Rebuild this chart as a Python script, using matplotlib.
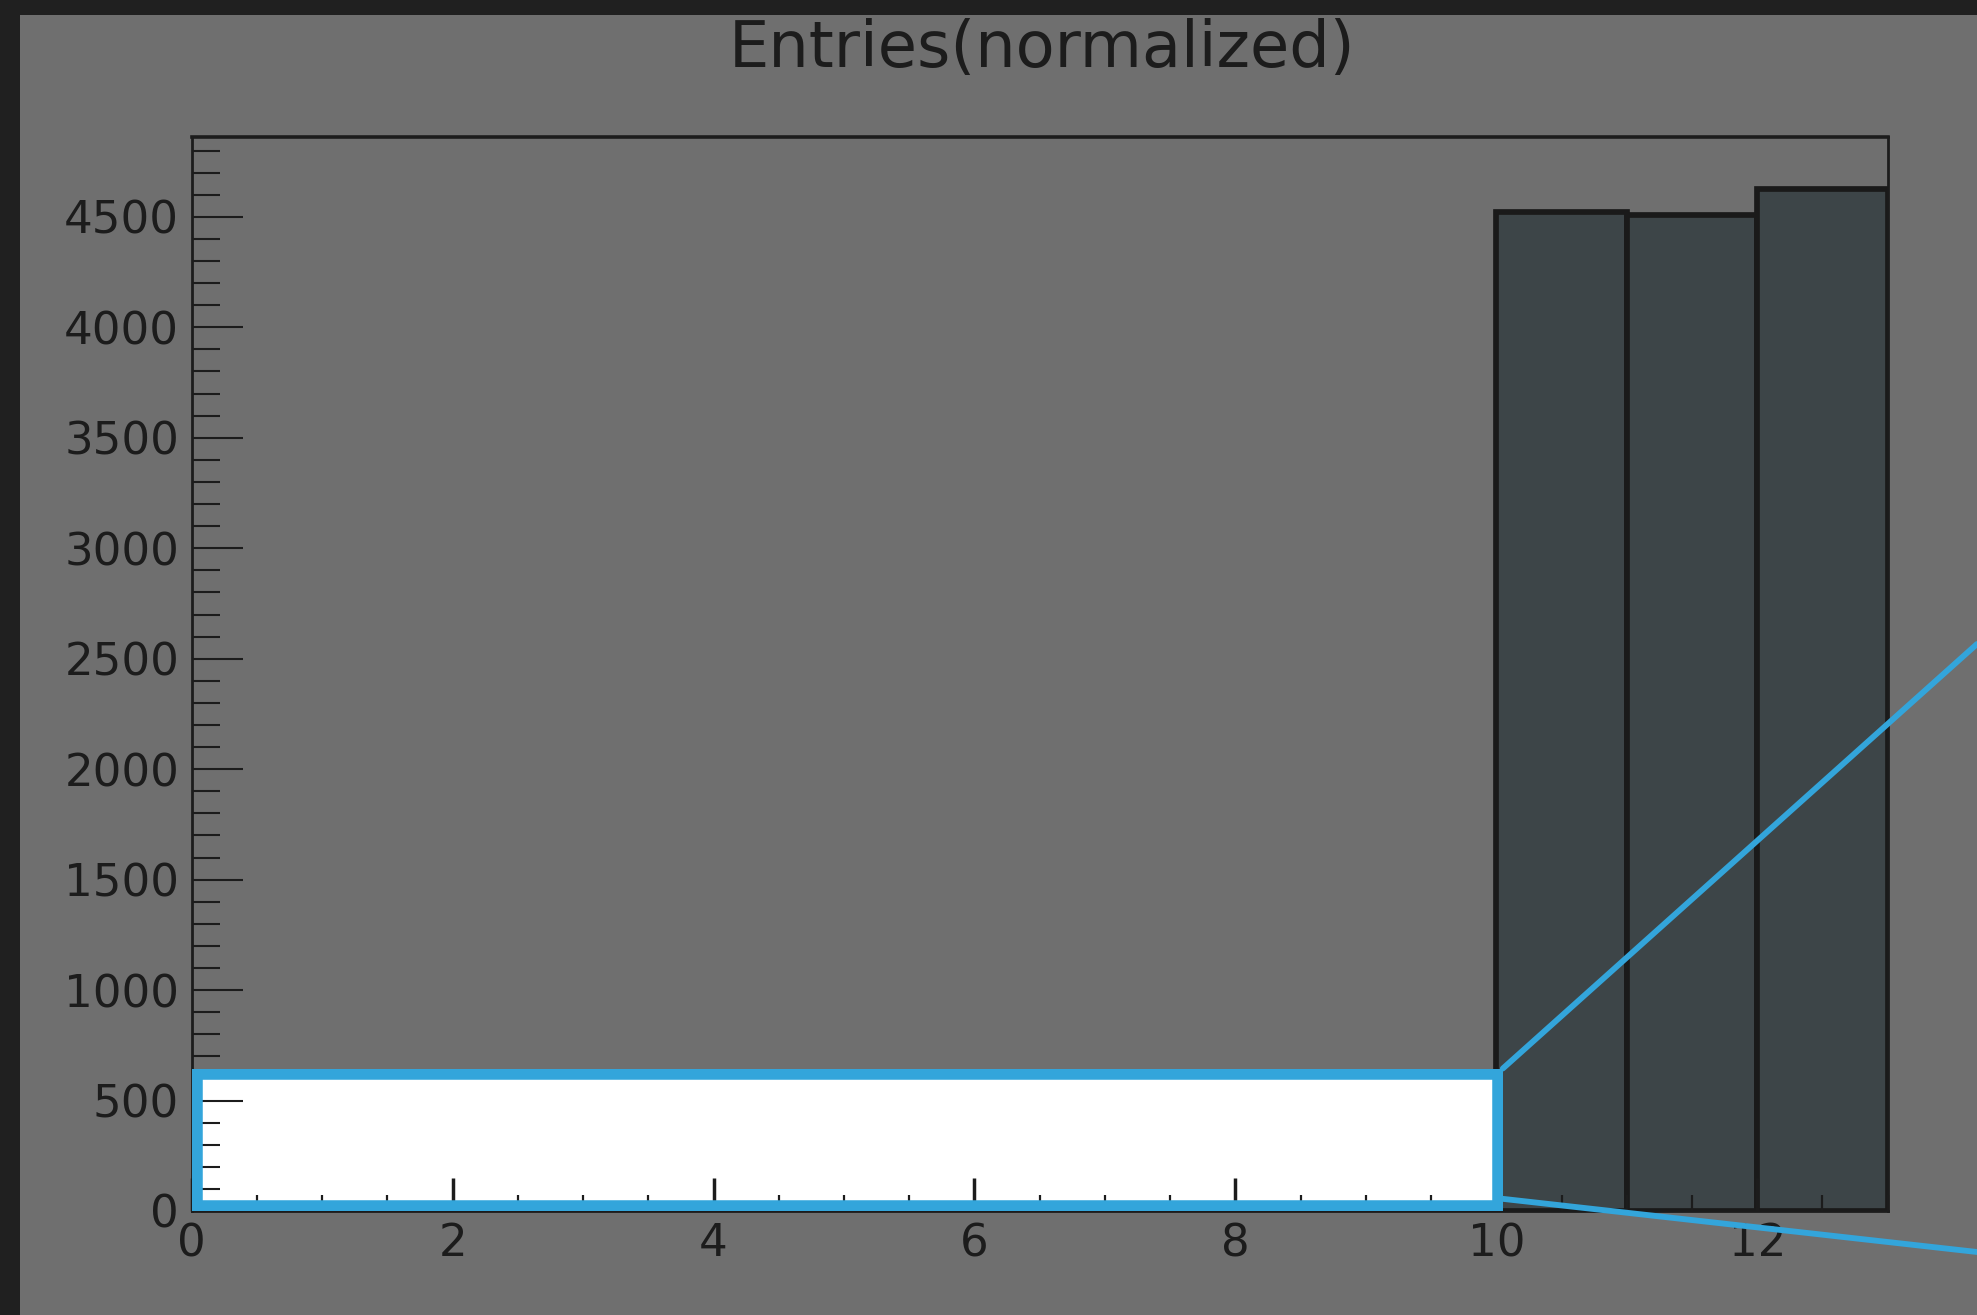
"""Histogram of normalized entries with a highlighted low-count window."""
import matplotlib

matplotlib.use("Agg")

import matplotlib.pyplot as plt
import numpy as np
from matplotlib.patches import ConnectionPatch, Rectangle

# ---------------------------------------------------------------------------
# Data
# ---------------------------------------------------------------------------
BIN_LEFT = [10, 11, 12]
COUNTS = [4522, 4507, 4624]

X_RANGE = (0, 13)
Y_RANGE = (0, 4860)
X_MAJOR = np.arange(0, 13, 2)
X_MINOR = np.arange(0, 13.01, 0.5)
Y_MAJOR = np.arange(0, 4501, 500)
Y_MINOR = np.arange(0, 4860, 100)

# window of the x/y range that is blown up elsewhere
ZOOM_X = (0, 10.05)
ZOOM_Y = (0, 645)

TITLE = "Entries(normalized)"

# ---------------------------------------------------------------------------
# Style
# ---------------------------------------------------------------------------
W_PX, H_PX, DPI = 1977, 1315, 100
FRAME_DARK = "#202020"
PANEL_GRAY = "#6f6f6f"
BAR_FILL = "#3d4548"
INK = "#1c1c1c"
HIGHLIGHT = "#33a5db"

fig = plt.figure(figsize=(W_PX / DPI, H_PX / DPI), dpi=DPI, facecolor=FRAME_DARK)

# gray panel, leaving a thin dark strip along the top and left
left_px, top_px = 20, 15
fig.add_artist(Rectangle((left_px / W_PX, 0), 1 - left_px / W_PX, 1 - top_px / H_PX,
                         transform=fig.transFigure, facecolor=PANEL_GRAY,
                         edgecolor="none", zorder=0))

ax = fig.add_axes([191.7 / W_PX, 104 / H_PX,
                   (1887.7 - 191.7) / W_PX, (1211 - 137.3) / H_PX])
ax.set_facecolor(PANEL_GRAY)

ax.bar(BIN_LEFT, COUNTS, width=1, align="edge", color=BAR_FILL,
       edgecolor="#1a1a1a", linewidth=4.1, zorder=1)

ax.set_xlim(*X_RANGE)
ax.set_ylim(*Y_RANGE)
ax.set_xticks(X_MAJOR)
ax.set_xticks(X_MINOR, minor=True)
ax.set_yticks(Y_MAJOR)
ax.set_yticks(Y_MINOR, minor=True)

ax.tick_params(axis="both", which="both", direction="in", colors=INK,
               top=False, right=False, labelsize=32.5)
ax.tick_params(axis="x", which="major", length=24, width=2.5, pad=8)
ax.tick_params(axis="x", which="minor", length=11.5, width=1.6)
ax.tick_params(axis="y", which="major", length=37, width=1.5, pad=9)
ax.tick_params(axis="y", which="minor", length=20, width=1.5)

for spine in ax.spines.values():
    spine.set_color(INK)
    spine.set_linewidth(2)
ax.spines["top"].set_linewidth(2.6)

# highlighted window: white fill under the ticks (axis sits at zorder 1.5),
# blue frame drawn inside it and above the ticks
zw, zh = ZOOM_X[1] - ZOOM_X[0], ZOOM_Y[1] - ZOOM_Y[0]
window = Rectangle((ZOOM_X[0], ZOOM_Y[0]), zw, zh, facecolor="white",
                   edgecolor="none", zorder=1.2)
ax.add_patch(window)
frame = Rectangle((ZOOM_X[0], ZOOM_Y[0]), zw, zh, facecolor="none",
                  edgecolor=HIGHLIGHT, linewidth=15.5, zorder=3)
ax.add_patch(frame)
frame.set_clip_path(window)

# connector lines running off to the right edge
for y_start, y_end in [(ZOOM_Y[1], 1 - 644 / H_PX), (55, 1 - 1252 / H_PX)]:
    con = ConnectionPatch(xyA=(ZOOM_X[1], y_start), coordsA=ax.transData,
                          xyB=(1.0, y_end), coordsB=fig.transFigure,
                          color=HIGHLIGHT, linewidth=4.2, zorder=4)
    con.set_clip_on(False)
    fig.add_artist(con)

fig.text(1042 / W_PX, 1 - 67 / H_PX, TITLE, ha="center", va="baseline",
         fontsize=46, color=INK)

fig.savefig("out.png", dpi=DPI, facecolor=FRAME_DARK)
